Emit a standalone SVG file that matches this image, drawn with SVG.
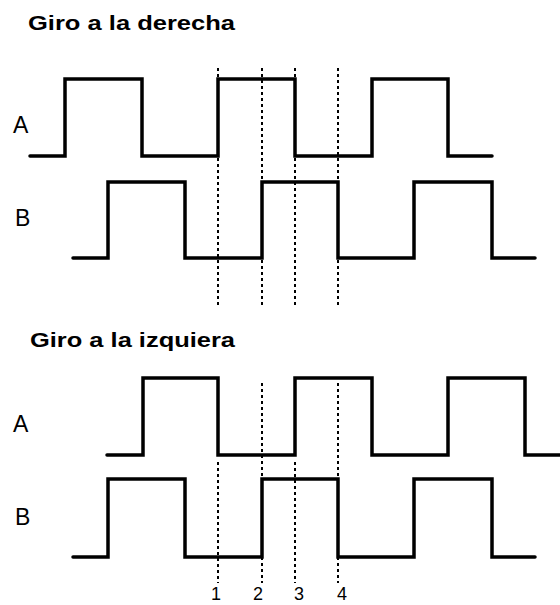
<svg xmlns="http://www.w3.org/2000/svg" width="560" height="605" viewBox="0 0 560 605">
<style>
.title{font-family:"Liberation Sans",Arial,sans-serif;font-size:20px;font-weight:bold;fill:#000}
.lbl{font-family:"Liberation Sans",Arial,sans-serif;font-size:23px;fill:#000}
.num{font-family:"Liberation Sans",Arial,sans-serif;font-size:18px;fill:#000}
.wave{fill:none;stroke:#000;stroke-width:3.5;stroke-linejoin:miter;stroke-linecap:round}
.dash{fill:none;stroke:#000;stroke-width:2;stroke-dasharray:3 3}
</style>
<rect width="560" height="605" fill="#fff"/>
<g id="title-right"><text class="title" x="28" y="30" textLength="207" lengthAdjust="spacingAndGlyphs">Giro a la derecha</text></g>
<g id="title-left"><text class="title" x="30" y="347" textLength="205" lengthAdjust="spacingAndGlyphs">Giro a la izquiera</text></g>
<g id="label-A-top"><text class="lbl" x="13" y="133">A</text></g>
<g id="label-B-top"><text class="lbl" x="15" y="226">B</text></g>
<g id="label-A-bottom"><text class="lbl" x="13" y="432">A</text></g>
<g id="label-B-bottom"><text class="lbl" x="15" y="525">B</text></g>
<g id="wave-A-top"><path class="wave" d="M30 156 H65 V79 H142 V156 H218 V79 H295 V156 H372 V79 H448 V156 H492"/></g>
<g id="wave-B-top"><path class="wave" d="M73 258 H108 V182 H185 V258 H262 V182 H338 V258 H414 V182 H492 V258 H535"/></g>
<g id="wave-A-bottom"><path class="wave" d="M107 455 H143 V378 H218 V455 H295 V378 H372 V455 H448 V378 H525 V455 H560"/></g>
<g id="wave-B-bottom"><path class="wave" d="M73 557 H108 V479 H185 V557 H262 V479 H338 V557 H414 V479 H492 V557 H535"/></g>
<g id="connectors">
<path class="dash" d="M218 68 V307 M262 68 V307 M295 68 V307 M338 68 V307"/>
<path class="dash" d="M218 462 V583 M262 383 V583 M295 462 V583 M338 383 V583"/>
</g>
<g id="numbers">
<text class="num" x="211" y="600">1</text>
<text class="num" x="253" y="600">2</text>
<text class="num" x="294" y="600">3</text>
<text class="num" x="337" y="600">4</text>
</g>
</svg>
